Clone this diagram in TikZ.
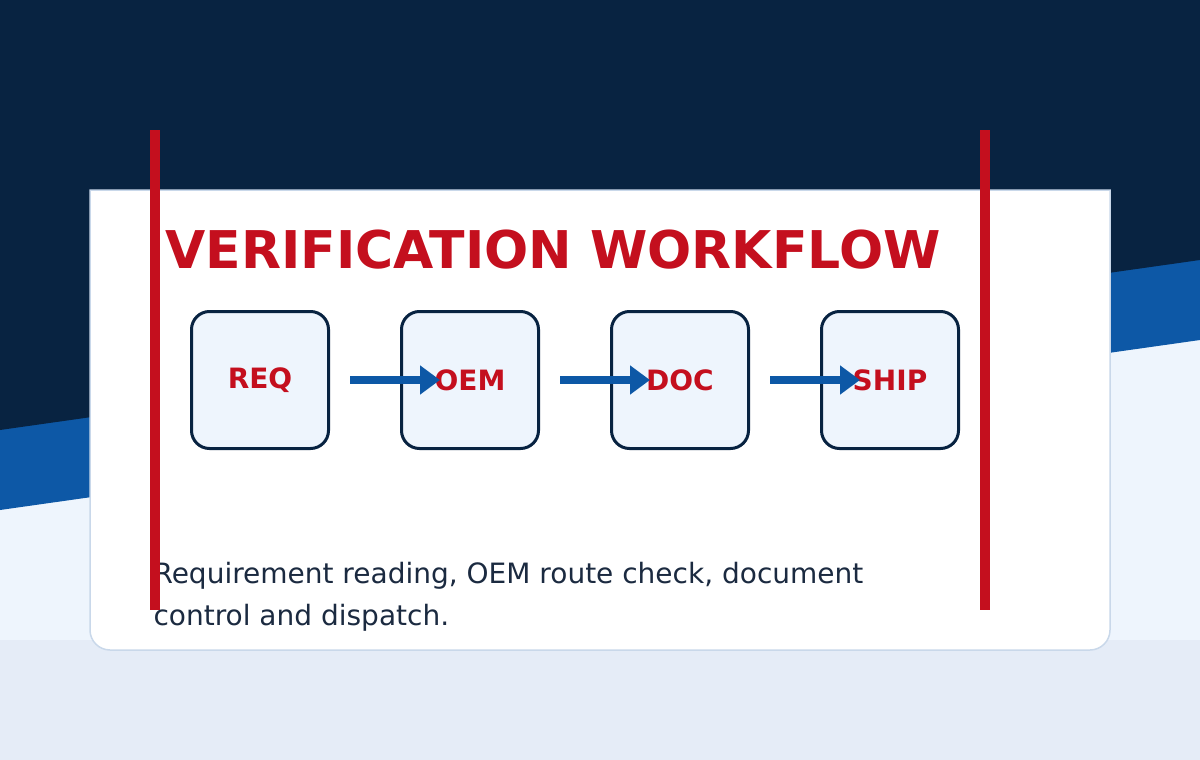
\documentclass[tikz,border=0pt]{standalone}
\usepackage{fontspec}
\setmainfont{DejaVu Sans}
\usetikzlibrary{arrows.meta}
\definecolor{navy}{HTML}{082341}
\definecolor{band}{HTML}{0D58A6}
\definecolor{pale}{HTML}{EEF5FD}
\definecolor{floor}{HTML}{E5ECF7}
\definecolor{redc}{HTML}{C40F1E}
\definecolor{ink}{HTML}{1B2A40}
\definecolor{cardline}{HTML}{C9D8EA}
\tikzset{
  stepbox/.style={draw=navy,line width=3pt,fill=pale,rounded corners=18pt,minimum width=137pt,minimum height=137pt,inner sep=0pt,font=\bfseries\fontsize{28}{30}\selectfont,text=redc},
  flow/.style={draw=band,line width=8pt,-{Triangle[length=20pt,width=28pt]}},
  redbar/.style={fill=redc,draw=none}
}
\begin{document}
\begin{tikzpicture}[x=1pt,y=-1pt]
\useasboundingbox (0,0) rectangle (1200,760);
\fill[pale] (0,0) rectangle (1200,640);
\fill[floor] (0,640) rectangle (1200,760);
\fill[band] (0,0) -- (1200,0) -- (1200,340) -- (0,510) -- cycle;
\fill[navy] (0,0) -- (1200,0) -- (1200,260) -- (0,430) -- cycle;
\draw[cardline,fill=white,line width=1.5pt] (90,190) -- (1110,190) -- (1110,630) arc[start angle=0,end angle=90,radius=20] -- (110,650) arc[start angle=90,end angle=180,radius=20] -- cycle;
\node[anchor=base,text=redc,font=\bfseries\fontsize{52}{56}\selectfont] (title) at (553,268) {VERIFICATION WORKFLOW};
\node[stepbox] (req) at (260,380) {REQ};
\node[stepbox] (oem) at (470,380) {OEM};
\node[stepbox] (doc) at (680,380) {DOC};
\node[stepbox] (ship) at (890,380) {SHIP};
\coordinate (a1) at (350,380); \coordinate (b1) at (440,380);
\coordinate (a2) at (560,380); \coordinate (b2) at (650,380);
\coordinate (a3) at (770,380); \coordinate (b3) at (860,380);
\draw[flow] (a1) -- (b1);
\draw[flow] (a2) -- (b2);
\draw[flow] (a3) -- (b3);
\node[anchor=base west,text=ink,font=\fontsize{28}{42}\selectfont] (cap1) at (150,583) {Requirement reading, OEM route check, document};
\node[anchor=base west,text=ink,font=\fontsize{28}{42}\selectfont] (cap2) at (150,625) {control and dispatch.};
\fill[redbar] (150,130) rectangle (160,610);
\fill[redbar] (980,130) rectangle (990,610);
\end{tikzpicture}
\end{document}
